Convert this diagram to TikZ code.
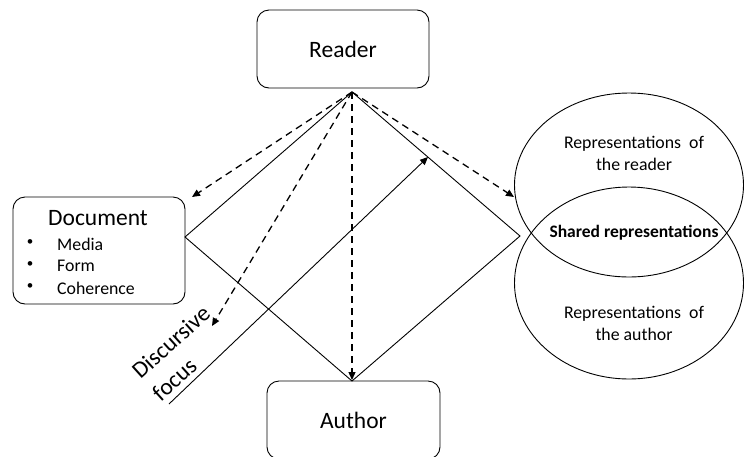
\documentclass[tikz,border=0pt]{standalone}
\usepackage{fontspec}
\setmainfont{Carlito}
\usetikzlibrary{shapes.geometric,arrows.meta}
\begin{document}
\begin{tikzpicture}[x=1pt,y=-1pt,
  box/.style={draw, rounded corners=12pt, line width=0.9pt, inner sep=0pt},
  big/.style={font=\fontsize{23.5}{30}\selectfont},
  small/.style={font=\fontsize{17.8}{22}\selectfont},
  oval/.style={draw, ellipse, line width=0.9pt, inner sep=0pt},
  edge/.style={line width=0.9pt},
  dasharr/.style={line width=1.3pt, dash pattern=on 7pt off 5pt, -{Triangle[length=8pt,width=7pt]}},
  solarr/.style={line width=0.9pt, -{Triangle[length=8pt,width=7pt]}}]
\clip (0,0) rectangle (744,456);
% boxes
\node[box, big, minimum width=172pt, minimum height=78pt] (reader) at (343,49) {Reader};
\node[box, minimum width=172pt, minimum height=107pt] (doc) at (99,250.5) {};
\node[box, big, minimum width=173pt, minimum height=78pt] (author) at (353.5,420) {\raisebox{-2pt}{Author}};
\node[big] (doct) at (98,218) {Document};
\node[font=\fontsize{13}{16}\selectfont] (b1) at (30,243) {•};
\node[font=\fontsize{13}{16}\selectfont] (b2) at (30,265) {•};
\node[font=\fontsize{13}{16}\selectfont] (b3) at (30,287) {•};
\node[small, anchor=west, inner sep=0pt] (m1) at (57,244) {Media};
\node[small, anchor=west, inner sep=0pt] (m2) at (57,266) {Form};
\node[small, anchor=west, inner sep=0pt] (m3) at (57,288) {Coherence};
% ellipses
\node[oval, minimum width=229pt, minimum height=184pt] (top) at (629,185) {};
\node[oval, minimum width=229pt, minimum height=192pt] (bot) at (629,283) {};
\node[small, align=center] (tr) at (634,153) {Representations\ \ of\\the reader};
\node[small, font=\fontsize{17.5}{22}\selectfont\bfseries] (sh) at (634,233) {Shared representations};
\node[small, align=center] (ta) at (634,323) {Representations\ \ of\\the author};
% diamond
\coordinate (apex) at (352,92);
\coordinate (L) at (185,237);
\coordinate (R) at (520,236);
\coordinate (B) at (352,381);
\draw[edge] (L) -- (apex) -- (R) -- (B) -- cycle;
% dashed arrows
\coordinate (t1) at (192,197);
\coordinate (t2) at (514,197);
\coordinate (t3) at (352,380);
\coordinate (t4) at (212,326);
\draw[dasharr] (apex) -- (t1);
\draw[dasharr] (apex) -- (t2);
\draw[dasharr] (apex) -- (t3);
\draw[dasharr] (apex) -- (t4);
% discursive focus
\coordinate (f0) at (169,404);
\coordinate (f1) at (428,157);
\draw[solarr] (f0) -- (f1);
\node[big, rotate=42, align=left, inner sep=0pt] (disc) at (181,353) {Discursive\\focus};
\end{tikzpicture}
\end{document}
